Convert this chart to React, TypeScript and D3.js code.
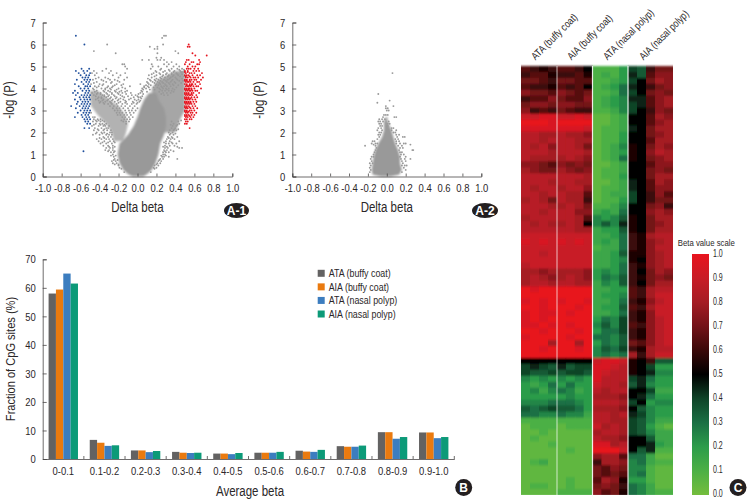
import React, { useEffect, useRef } from "react";
import * as d3 from "d3";

const FONT = "'Liberation Sans', sans-serif";
const INK = "#2b2728";
const GRAY = "#999999";
const SHADE_RIGHT = "#a6a6a6";
const SHADE_LEFT = "#b2b2b2";

// panel A: filled part of each cloud, [-log P, left edge, right edge]
const cloudCoreA1: number[][] = [[0, -0.05, 0.06], [0.1, -0.1, 0.1], [0.3, -0.15, 0.15], [0.6, -0.19, 0.19], [1, -0.21, 0.22], [1.5, -0.19, 0.24], [1.9, -0.1, 0.28], [2.3, -0.04, 0.3], [2.7, 0, 0.3], [3.1, 0.03, 0.28], [3.5, 0.07, 0.22], [3.8, 0.12, 0.2]];
const cloudRightA1: number[][] = [[2, 0.25, 0.4], [2.6, 0.25, 0.45], [3, 0.2, 0.5], [3.5, 0.15, 0.5], [4, 0.15, 0.5], [4.4, 0.22, 0.5], [4.8, 0.4, 0.5]];
const cloudLeftA1: number[][] = [[1.6, -0.25, -0.15], [2, -0.27, -0.12], [2.4, -0.33, -0.1], [2.8, -0.42, -0.13], [3.2, -0.49, -0.2], [3.6, -0.5, -0.33], [3.9, -0.5, -0.42]];
const cloudCoreA2: number[][] = [[0, -0.06, 0.04], [0.08, -0.15, 0.13], [0.3, -0.16, 0.16], [0.6, -0.15, 0.14], [0.9, -0.14, 0.14], [1.2, -0.12, 0.12], [1.5, -0.09, 0.09], [1.8, -0.05, 0.07], [2.1, -0.03, 0.05], [2.5, -0.03, 0.01], [2.7, -0.01, 0.005]];

// panel A: scattered points as rows, [-log P, [delta beta...]]
const grayRowsA1: [number, number[]][] = [
  [6.4, [0.28, 0.3]], [6.3, [0.26]], [6.0, [-0.32, 0.27]], [5.9, [0.13, 0.21]], [5.8, [0.18, 0.21]], [5.7, [-0.46, 0.4]], [5.6, [-0.23, 0.21, 0.43]],
  [5.4, [0.2, 0.25]], [5.3, [0.05, 0.12, 0.21, 0.24, 0.28]], [5.2, [0.31, 0.36]], [5.1, [-0.16, -0.14, 0.15, 0.28, 0.33, 0.41]],
  [5.0, [-0.13, 0.16, 0.22, 0.31, 0.38, 0.44]], [4.9, [-0.33, -0.11, 0.14, 0.25, 0.36, 0.42, 0.47]], [4.8, [-0.46, -0.37, -0.28, 0.19, 0.29, 0.34, 0.39, 0.45]],
  [4.7, [-0.48, -0.43, -0.3, -0.22, -0.13, 0.17, 0.23, 0.31, 0.36, 0.41]], [4.6, [-0.45, -0.26, -0.18, 0.12, 0.2, 0.27, 0.33, 0.38, 0.43]],
  [4.5, [-0.41, -0.34, -0.2, -0.11, 0.15, 0.24, 0.29, 0.35, 0.4]], [4.4, [-0.47, -0.38, -0.29, -0.24, -0.14, 0.13, 0.18, 0.22, 0.28, 0.32, 0.37, 0.42]],
  [4.3, [-0.43, -0.33, -0.27, -0.19, 0.1, 0.16, 0.21, 0.26, 0.31, 0.35, 0.39]], [4.2, [-0.49, -0.4, -0.36, -0.22, -0.15, 0.03, 0.12, 0.2, 0.24, 0.29, 0.34, 0.37]],
  [4.1, [-0.45, -0.41, -0.31, -0.26, -0.08, 0.07, 0.11, 0.25, 0.28, 0.31, 0.35]], [4.0, [-0.47, -0.38, -0.34, -0.29, -0.2, -0.13, 0.05, 0.09, 0.23, 0.27, 0.3, 0.33, 0.37]],
  [3.9, [-0.43, -0.36, -0.31, -0.24, -0.17, -0.11, 0.04, 0.26, 0.29, 0.33, 0.36]], [3.8, [-0.48, -0.42, -0.39, -0.33, -0.27, -0.21, -0.16, -0.07, 0.03, 0.27, 0.31, 0.35]],
  [3.7, [-0.46, -0.37, -0.35, -0.3, -0.25, -0.18, -0.06, -0.02, 0.28, 0.32]], [3.6, [-0.41, -0.38, -0.33, -0.28, -0.22, -0.14, -0.04, 0.01, 0.03]],
  [3.5, [-0.44, -0.36, -0.31, -0.26, -0.2, -0.15, -0.09, -0.03, 0.01]], [3.4, [-0.39, -0.34, -0.29, -0.24, -0.18, -0.12, -0.05, 0.02]],
  [3.3, [-0.35, -0.31, -0.27, -0.22, -0.16, -0.11, -0.06, -0.01]], [3.2, [-0.29, -0.25, -0.21, -0.17, -0.13, -0.08, -0.03]],
  [3.1, [-0.26, -0.22, -0.19, -0.15, -0.1, -0.05, 0.0]], [3.0, [-0.24, -0.21, -0.18, -0.13, -0.09, -0.06, -0.02]], [2.9, [-0.49, -0.22, -0.19, -0.16, -0.12, -0.08, -0.04]],
  [2.8, [-0.21, -0.18, -0.14, -0.11, -0.07]], [2.7, [-0.47, -0.45, -0.16, -0.13, -0.09, -0.05]], [2.6, [-0.46, -0.42, -0.39, -0.14, -0.11, -0.08]],
  [2.5, [-0.47, -0.43, -0.39, -0.35, -0.15, -0.12, -0.09, 0.36, 0.43]], [2.4, [-0.44, -0.4, -0.37, -0.33, -0.12, 0.38, 0.44]], [2.3, [-0.48, -0.41, -0.36, -0.34, -0.3, 0.37, 0.41]],
  [2.2, [-0.45, -0.38, -0.33, -0.31, 0.36, 0.4]], [2.1, [-0.46, -0.41, -0.36, -0.32, -0.28, 0.34, 0.38, 0.41]], [2.0, [-0.43, -0.38, -0.35, -0.29, -0.27, 0.33, 0.37]],
  [1.9, [-0.47, -0.4, -0.33, -0.3, -0.27, 0.34, 0.38]], [1.8, [-0.36, -0.31, -0.28, 0.32, 0.36, 0.42]], [1.7, [-0.43, -0.38, -0.33, -0.3, -0.26, 0.31, 0.35, 0.39]],
  [1.6, [-0.41, -0.35, -0.29, -0.25, 0.3, 0.34, 0.44]], [1.5, [-0.39, -0.33, -0.27, 0.3, 0.33, 0.37, 0.41]], [1.4, [-0.36, -0.31, -0.26, 0.29, 0.34, 0.39]],
  [1.3, [-0.33, -0.29, -0.26, 0.29, 0.32, 0.44, 0.47]], [1.2, [-0.34, -0.3, -0.26, 0.28, 0.31, 0.35]], [1.1, [-0.28, -0.25, 0.27, 0.3, 0.33]], [1.0, [-0.26, 0.27, 0.29]],
  [0.9, [-0.25, 0.26, 0.28, 0.33]], [0.8, [-0.24, 0.24, 0.27, 0.42]], [0.7, [-0.27, -0.23, 0.22, 0.25]], [0.6, [-0.26, -0.22, 0.21, 0.24]], [0.5, [-0.2, 0.18, 0.22]], [0.4, [-0.19, 0.17, 0.2]],
  // second pass over the same cloud, between the rows above
  [4.85, [0.24, 0.33, 0.44, 0.49]], [4.75, [0.2, 0.27, 0.38, 0.46, 0.48]], [4.65, [0.15, 0.24, 0.3, 0.36, 0.42, 0.47]], [4.55, [0.18, 0.26, 0.32, 0.37, 0.45, 0.49]],
  [4.45, [-0.44, -0.31, 0.11, 0.2, 0.25, 0.34, 0.41, 0.47]], [4.35, [-0.36, -0.21, 0.14, 0.19, 0.24, 0.3, 0.36, 0.44, 0.48]], [4.25, [-0.46, -0.28, 0.11, 0.18, 0.23, 0.27, 0.33, 0.4, 0.46]],
  [4.15, [-0.37, -0.24, -0.17, 0.09, 0.14, 0.19, 0.22, 0.3, 0.38, 0.43]], [4.05, [-0.43, -0.32, -0.27, -0.16, 0.07, 0.12, 0.17, 0.21, 0.26, 0.41]], [3.95, [-0.46, -0.34, -0.28, -0.22, 0.06, 0.13, 0.18, 0.24, 0.31, 0.39]],
  [3.85, [-0.45, -0.35, -0.29, -0.23, -0.19, -0.13, 0.05, 0.1, 0.23, 0.38]], [3.75, [-0.43, -0.39, -0.32, -0.27, -0.2, -0.12, 0.01, 0.06, 0.25]], [3.65, [-0.44, -0.35, -0.31, -0.24, -0.16, -0.1, 0.0, 0.05]],
  [3.55, [-0.42, -0.38, -0.29, -0.23, -0.18, -0.07, 0.04]], [3.45, [-0.41, -0.37, -0.32, -0.27, -0.21, -0.13, -0.01, 0.03]], [3.35, [-0.4, -0.36, -0.28, -0.2, -0.13, -0.04, 0.0]],
  [2.55, [-0.44, -0.41, -0.37, -0.17, 0.46]], [2.35, [-0.46, -0.39, -0.35, 0.42, 0.35]], [2.15, [-0.42, -0.35, 0.39, 0.43]], [1.95, [-0.44, -0.37, -0.32, 0.35, 0.4]], [1.75, [-0.4, -0.35, 0.33, 0.37]],
  [1.55, [-0.37, -0.31, -0.24, 0.28, 0.36]], [1.35, [-0.3, -0.24, 0.27, 0.31, 0.42]], [1.15, [-0.31, -0.24, 0.29, 0.38]], [0.95, [-0.28, -0.23, 0.25, 0.3]], [0.75, [-0.25, -0.21, 0.23]], [0.55, [-0.24, -0.2, 0.2]], [0.35, [-0.17, 0.18]], [0.2, [-0.14, 0.14]],
];
const blueRowsA1: [number, number[]][] = [
  [6.4, [-0.65]], [6.0, [-0.56]], [4.9, [-0.59, -0.51]], [4.8, [-0.65, -0.57, -0.53]], [4.7, [-0.62, -0.56, -0.5]], [4.6, [-0.6, -0.54, -0.51]], [4.5, [-0.58, -0.55, -0.52]],
  [4.4, [-0.64, -0.56, -0.53, -0.5]], [4.3, [-0.59, -0.54, -0.51]], [4.2, [-0.66, -0.57, -0.52]], [4.1, [-0.62, -0.55, -0.53, -0.5]], [4.0, [-0.6, -0.56, -0.52]],
  [3.9, [-0.66, -0.58, -0.54, -0.51]], [3.8, [-0.68, -0.63, -0.55, -0.52]], [3.7, [-0.65, -0.59, -0.56, -0.53, -0.5]], [3.6, [-0.61, -0.57, -0.54, -0.51]],
  [3.5, [-0.66, -0.6, -0.56, -0.53, -0.5]], [3.4, [-0.63, -0.58, -0.55, -0.52]], [3.3, [-0.64, -0.59, -0.56, -0.53, -0.5]], [3.2, [-0.7, -0.61, -0.57, -0.54, -0.51]],
  [3.1, [-0.65, -0.58, -0.55, -0.52]], [3.0, [-0.6, -0.56, -0.53, -0.5]], [2.9, [-0.63, -0.57, -0.54, -0.51]], [2.8, [-0.59, -0.55, -0.52]], [2.7, [-0.66, -0.58, -0.54, -0.51]],
  [2.6, [-0.56, -0.53, -0.5]], [2.5, [-0.55, -0.52]], [2.4, [-0.53, -0.5]], [2.2, [-0.56, -0.51]], [1.15, [-0.57]],
];
const redRowsA1: [number, number[]][] = [
  [6.0, [0.54]], [5.9, [0.53, 0.55]], [5.6, [0.58]], [5.5, [0.73, 0.61]], [5.3, [0.52, 0.54, 0.65]], [5.2, [0.51, 0.57, 0.59, 0.66]], [5.1, [0.5, 0.55, 0.63, 0.65]],
  [5.0, [0.53, 0.58, 0.61]], [4.9, [0.52, 0.54, 0.56, 0.6, 0.64]], [4.8, [0.5, 0.53, 0.59, 0.62, 0.65]], [4.7, [0.51, 0.55, 0.57, 0.6, 0.68]], [4.6, [0.5, 0.52, 0.54, 0.58, 0.63, 0.66]],
  [4.5, [0.51, 0.53, 0.56, 0.59, 0.61, 0.64, 0.69]], [4.4, [0.5, 0.52, 0.55, 0.57, 0.6, 0.62, 0.67]], [4.3, [0.51, 0.53, 0.54, 0.56, 0.59, 0.63, 0.65]],
  [4.2, [0.5, 0.52, 0.55, 0.57, 0.58, 0.61, 0.66]], [4.1, [0.51, 0.53, 0.54, 0.56, 0.59, 0.62, 0.64]], [4.0, [0.5, 0.52, 0.54, 0.55, 0.57, 0.6, 0.67]],
  [3.9, [0.51, 0.53, 0.55, 0.56, 0.58, 0.61, 0.63]], [3.8, [0.5, 0.52, 0.54, 0.57, 0.59, 0.65]], [3.7, [0.51, 0.53, 0.55, 0.56, 0.58, 0.62]],
  [3.6, [0.5, 0.52, 0.54, 0.57, 0.6, 0.63]], [3.5, [0.51, 0.53, 0.55, 0.58, 0.61]], [3.4, [0.5, 0.52, 0.54, 0.56, 0.59, 0.62]], [3.3, [0.51, 0.53, 0.55, 0.57, 0.6]],
  [3.2, [0.5, 0.52, 0.54, 0.58, 0.61]], [3.1, [0.51, 0.53, 0.56, 0.59, 0.63]], [3.0, [0.5, 0.52, 0.55, 0.57, 0.6]], [2.9, [0.51, 0.53, 0.56, 0.58, 0.62]],
  [2.8, [0.5, 0.52, 0.54, 0.57, 0.6]], [2.7, [0.51, 0.53, 0.56, 0.59]], [2.6, [0.5, 0.52, 0.55, 0.57]], [2.5, [0.51, 0.53]], [2.4, [0.5, 0.52]], [2.2, [0.55]],
  // second pass, dense left edge of the red group
  [4.75, [0.5, 0.53]], [4.55, [0.51, 0.55]], [4.35, [0.5, 0.52, 0.55]], [4.15, [0.52, 0.55, 0.57]], [3.95, [0.5, 0.52, 0.54, 0.57]], [3.75, [0.5, 0.52, 0.54, 0.57]],
  [3.55, [0.5, 0.52, 0.54, 0.56]], [3.35, [0.5, 0.52, 0.54, 0.56]], [3.15, [0.5, 0.52, 0.55]], [2.95, [0.5, 0.52, 0.54]], [2.75, [0.5, 0.52, 0.55]],
];
const grayRowsA2: [number, number[]][] = [
  [4.7, [0.06]], [3.75, [-0.09]], [3.45, [0.03]], [3.35, [-0.1]], [3.2, [0.07, -0.01]], [3.1, [-0.01, 0.01]], [3.0, [0.0, 0.02]], [2.8, [-0.03, -0.01, 0.01]], [2.7, [-0.04, 0.08, 0.1]],
  [2.6, [-0.08, -0.05, -0.02]], [2.5, [-0.09, -0.07, 0.02, -0.04]], [2.4, [-0.08, -0.06, 0.01, 0.03]], [2.3, [-0.07, -0.05, 0.01]], [2.2, [-0.09, -0.06, 0.07, 0.05]],
  [2.1, [-0.1, -0.05, 0.05, 0.1]], [2.0, [-0.08, -0.06, 0.07, 0.09]], [1.9, [-0.09, -0.07, 0.1, 0.13]], [1.8, [-0.08, 0.11, 0.17, 0.19]], [1.7, [-0.1, 0.09, 0.12]],
  [1.6, [-0.15, -0.13, 0.1, 0.13]], [1.5, [-0.16, -0.12, -0.1, 0.1, 0.14, 0.18, 0.2]], [1.45, [-0.14, 0.25]], [1.4, [-0.23, -0.12, 0.12, 0.16]], [1.3, [-0.11, 0.14, 0.17]], [1.2, [-0.12, 0.13, 0.27, 0.28]],
  [1.1, [-0.13, 0.14, 0.16]], [1.0, [-0.14, 0.15, 0.18]], [0.9, [-0.16, -0.14, 0.14, 0.2]], [0.8, [-0.17, 0.15, 0.19, 0.25]], [0.7, [-0.16, 0.16, 0.2]], [0.6, [-0.18, -0.15, 0.17]],
  [0.5, [-0.17, 0.16, 0.19, 0.21]], [0.4, [-0.18, 0.18]], [0.3, [-0.17, 0.2]], [0.2, [-0.18, 0.16]],
];

// panel B
const betaBins = ["0-0.1", "0.1-0.2", "0.2-0.3", "0.3-0.4", "0.4-0.5", "0.5-0.6", "0.6-0.7", "0.7-0.8", "0.8-0.9", "0.9-1.0"];
const seriesNames = ["ATA (buffy coat)", "AIA (buffy coat)", "ATA (nasal polyp)", "AIA (nasal polyp)"];
const seriesColors = ["#636262", "#ea7a0f", "#3c7dbf", "#0c9a78"];
const ataBuffy = [58, 6.7, 3, 2.5, 1.9, 2.2, 2.9, 4.5, 9.4, 9.3];
const aiaBuffy = [59.4, 5.7, 3, 2.2, 1.9, 2.2, 2.6, 4.3, 9.4, 9.3];
const ataNasal = [65, 4.6, 2.4, 2.1, 1.7, 2.2, 2.5, 4.3, 7.1, 7.3];
const aiaNasal = [61.5, 4.8, 2.8, 2.2, 2.1, 2.5, 3.2, 4.7, 7.7, 7.7];
const fractionSeries = [ataBuffy, aiaBuffy, ataNasal, aiaNasal];

// panel C: one string per row, one letter per sub-column, a = 0.00 ... u = 1.00 in 0.05 steps
const heatRows = [
  "nmlm nnmk ccce ihmoo", "mnnl mmnl cdce jhnpp", "oonm oonn ccde ikoqp", "nmml nmnk cdeg jkmop", "poon pono ccdg ikopo", "mnnp onnp cdef jjnpq",
  "oppo ppoo cdef ijnpq", "pmnm onmm ccdf ikmpo", "sstt ssts bbcd kknqp", "uuut uuuu bbcd kknpq", "tttt ttts bccd jkoqq", "rrqq rqqp bcce kkopq",
  "rrqr rrqq bcce kknqq", "rqrp rrqo bcdf lkoqp", "rrrq rrrq bcde lkprq", "rqqq qrqp bcdg lkopq", "ppon popo bbcd kknpp", "qpoo qpop bccd kkopo",
  "rrrr rrrq bcce kkoqq", "rrrq rrqq bbcd jknqp", "rqrr qrrp bccd jknpp", "rrqr rqqn bcdd ikmpn", "qrqo rqqm bcce ikmoo", "rrrq qrqo ccdf kkopm",
  "rrqr rrpp dedg kkpqp", "qrrr rrqn fefh lkoqq", "rqrq qrqk fhfj lkopq", "rrrr rrqq deeh lkoqq", "ssss ssss ddeg mlqrr", "tsts tsts dedg mlpqr",
  "ssss ssss cddg mlprr", "ssrs ssss ddeh llpqr", "ssss ssss ddef lkpqr", "rsss ssss ddeg mlpqr", "qqpq qqqp efeg mkoqp", "qrqp qrqp egfh mlopo",
  "qrrq rrqq dfeh mkoqq", "utuu uuuu ddee nmqrr", "uuuu uuuu deef nmqss", "tutu tuut ddeg mlprs", "uutu uutu deeh nmqss", "tutt utuu ddeg mlpss",
  "tutu uuuu egfi mlprs", "ttut utuu fhfi nmprs", "uutu uutu eggi mlprs", "tuuu utuu ggfh mlprs", "uuuq uuqu egfh onprs", "uutu uutu fhgi mlqrr",
  "uuuu uuuu fgfg qmqss", "kkkk kkkk stts lkmhh", "ijih jhii ttsr lkiee", "ihhi hiih tsrr lkjff", "fefe fefe trrr ijgee", "edeg egee srrq hjfee",
  "efdf gfde rqrr kkidd", "eeee efee qqqp kjgee", "fffg ggfe rrrq ikeff", "hghi hhge qqqp khfee", "ggff gffd rrqr jifee", "cccc cccc rrqq ihfdd",
  "bccc bccc sqrq ihecb", "bbcb bbbb qrrq ihfdd", "bcbb bbbb rqqp kkhdd", "bbbc bbbb ttqr kkjed", "bbbb bcbb uuus khjcc", "bbbb bbbb pqqn ggdbb",
  "bcdb bbbb mqqp fgdcc", "bbbb bbbb onpo ffcbb", "bbbb bbbb onon fgcbb", "bbbb bcbb nqpl eecbb", "bccb bcbb opom gfdbb", "bbbb cccc pnol gfdcc",
];
const groupNames = seriesNames;
const rowIds = heatRows.map((_, i) => i);

// panel C colour ramp
const scaleStops = [0, 0.1, 0.2, 0.3, 0.4, 0.5, 0.6, 0.7, 0.8, 0.9, 1];
const scaleColors = ["#74bd3c", "#4cb045", "#2c9c4a", "#1a7044", "#0f4428", "#000000", "#3a0808", "#731218", "#a51c24", "#c81c26", "#e8141e"];
const scaleLabels = ["1.0", "0.9", "0.8", "0.7", "0.6", "0.5", "0.4", "0.3", "0.2", "0.1", "0.0"];

function volcano(
  root: d3.Selection<SVGGElement, unknown, null, undefined>,
  left: number,
  right: number,
  clouds: { data: number[][]; color: string }[],
  rows: { data: [number, number[]][]; color: string }[]
) {
  const x = d3.scaleLinear().domain([-1, 1]).range([left, right]);
  const y = d3.scaleLinear().domain([0, 7]).range([176.5, 22.5]);

  const area = d3
    .area<number[]>()
    .y((d) => y(d[0]))
    .x0((d) => x(d[1]))
    .x1((d) => x(d[2]));
  clouds.forEach((c) => root.append("path").attr("d", area(c.data)).attr("fill", c.color).attr("filter", "url(#cloudEdge)"));

  rows.forEach((r) => {
    const pts = r.data.flatMap(([p, xs]) => xs.map((dx) => [dx, p]));
    root
      .append("g")
      .selectAll("circle")
      .data(pts)
      .enter()
      .append("circle")
      .attr("cx", (d) => x(d[0]))
      .attr("cy", (d) => y(d[1]))
      .attr("r", 0.95)
      .attr("fill", r.color);
  });

  // hyphen, not d3's minus sign, as in the original labels
  const fmt = d3.format(".1f");
  const ax = root
    .append("g")
    .attr("transform", "translate(0,176.5)")
    .call(
      d3
        .axisBottom(x)
        .tickValues(d3.range(-1, 1.01, 0.2))
        .tickFormat((d) => fmt(d as number).replace("\u2212", "-"))
        .tickSize(-3)
        .tickPadding(7)
    );
  const ay = root
    .append("g")
    .attr("transform", `translate(${left},0)`)
    .call(d3.axisLeft(y).ticks(7).tickSize(-4).tickPadding(7));
  styleAxis(ax);
  styleAxis(ay);

  const mid = (left + right) / 2;
  root.append("text").attr("x", mid).attr("y", 212).attr("text-anchor", "middle").attr("font-size", 14).text("Delta beta");
  root
    .append("text")
    .attr("transform", `translate(${left - 28.5},100) rotate(-90)`)
    .attr("text-anchor", "middle")
    .attr("font-size", 14)
    .text("-log (P)");
}

function styleAxis(g: d3.Selection<SVGGElement, unknown, null, undefined>) {
  g.attr("font-family", FONT).attr("font-size", 11.5);
  g.selectAll(".domain").attr("stroke", "#4a4748").attr("stroke-width", 0.8);
  g.selectAll("line").attr("stroke", "#4a4748").attr("stroke-width", 0.8);
  g.selectAll("text").attr("fill", INK);
}

function badge(root: d3.Selection<SVGGElement, unknown, null, undefined>, cx: number, cy: number, rx: number, ry: number, label: string) {
  root.append("ellipse").attr("cx", cx).attr("cy", cy).attr("rx", rx).attr("ry", ry).attr("fill", "#231f20");
  root
    .append("text")
    .attr("class", "badge")
    .attr("x", cx)
    .attr("y", cy + 4.3)
    .attr("text-anchor", "middle")
    .attr("fill", "#fff")
    .attr("font-weight", "bold")
    .attr("font-size", 12)
    .text(label);
}

export default function App() {
  const ref = useRef<SVGSVGElement>(null);

  useEffect(() => {
    const svg = d3.select(ref.current);
    svg.selectAll("*").remove();
    const defs = svg.append("defs");
    defs.append("filter").attr("id", "cloudEdge").append("feGaussianBlur").attr("stdDeviation", 1);
    const root = svg.append("g").attr("font-family", FONT).attr("fill", INK) as any;

    // A-1, A-2
    volcano(
      root,
      42.7,
      232.3,
      [
        { data: cloudRightA1, color: SHADE_RIGHT },
        { data: cloudLeftA1, color: SHADE_LEFT },
        { data: cloudCoreA1, color: GRAY },
      ],
      [
        { data: grayRowsA1, color: GRAY },
        { data: blueRowsA1, color: "#1f4f9c" },
        { data: redRowsA1, color: "#e5141f" },
      ]
    );
    volcano(root, 292.3, 481.3, [{ data: cloudCoreA2, color: GRAY }], [{ data: grayRowsA2, color: GRAY }]);
    badge(root, 236.5, 210.5, 12.5, 7.5, "A-1");
    badge(root, 485, 210.5, 13, 7.5, "A-2");

    // B
    const bx = d3.scaleBand().domain(betaBins).range([42.7, 454.3]).paddingInner(0.286).paddingOuter(0.143);
    const bSeries = d3.scaleBand().domain(seriesNames).range([0, bx.bandwidth()]);
    const by = d3.scaleLinear().domain([0, 70]).range([459, 259.3]);
    fractionSeries.forEach((vals, s) => {
      root
        .append("g")
        .selectAll("rect")
        .data(vals)
        .enter()
        .append("rect")
        .attr("x", (_: number, i: number) => bx(betaBins[i])! + bSeries(seriesNames[s])!)
        .attr("y", (d: number) => by(d))
        .attr("width", bSeries.bandwidth())
        .attr("height", (d: number) => by(0) - by(d))
        .attr("fill", seriesColors[s]);
    });
    const bAxisX = root
      .append("g")
      .attr("transform", "translate(0,459)")
      .call(d3.axisBottom(bx).tickSize(0).tickPadding(8));
    styleAxis(bAxisX);
    root
      .append("g")
      .selectAll("line")
      .data(betaBins)
      .enter()
      .append("line")
      .attr("x1", (d: string) => bx(d)! + bx.step() - (bx.step() - bx.bandwidth()) / 2)
      .attr("x2", (d: string) => bx(d)! + bx.step() - (bx.step() - bx.bandwidth()) / 2)
      .attr("y1", 459)
      .attr("y2", 456)
      .attr("stroke", "#4a4748")
      .attr("stroke-width", 0.8);
    const bAxisY = root
      .append("g")
      .attr("transform", "translate(42.7,0)")
      .call(d3.axisLeft(by).ticks(7).tickSize(-4).tickPadding(7));
    styleAxis(bAxisY);
    root.append("text").attr("x", 250).attr("y", 496).attr("text-anchor", "middle").attr("font-size", 14).text("Average beta");
    root
      .append("text")
      .attr("transform", "translate(14.5,359) rotate(-90)")
      .attr("text-anchor", "middle")
      .attr("font-size", 13.5)
      .text("Fraction of CpG sites (%)");

    // B legend
    const ly = d3.scalePoint().domain(seriesNames).range([273.3, 314]);
    seriesNames.forEach((name, i) => {
      root.append("rect").attr("x", 317.7).attr("y", ly(name)! - 3.5).attr("width", 7).attr("height", 7).attr("fill", seriesColors[i]);
      root.append("text").attr("x", 328.7).attr("y", ly(name)! + 3.8).attr("font-size", 10.8).text(name);
    });
    badge(root, 463.7, 487.5, 8.5, 8.5, "B");

    // C heatmap
    const color = d3.scaleLinear<string>().domain(scaleStops).range(scaleColors);
    const groupEdges = [521, 557, 592.5, 628, 673];
    const rowScale = d3.scaleBand<number>().domain(rowIds).range([66, 495]);
    defs.append("filter").attr("id", "soft").append("feGaussianBlur").attr("stdDeviation", "0.5 0.8");
    const heat = root.append("g").attr("filter", "url(#soft)");
    heatRows.forEach((row, r) => {
      row.split(" ").forEach((cells, g) => {
        const letters = cells.split("");
        const sub = d3.scaleBand<number>().domain(d3.range(letters.length)).range([groupEdges[g], groupEdges[g + 1]]);
        letters.forEach((c, s) => {
          heat
            .append("rect")
            .attr("x", sub(s)!)
            .attr("y", rowScale(r)!)
            .attr("width", sub.bandwidth() + 1)
            .attr("height", rowScale.bandwidth() + 1)
            .attr("fill", color((c.charCodeAt(0) - 97) * 0.05));
        });
      });
    });
    // cover the overdraw of the last row and column
    root.append("rect").attr("x", 673).attr("y", 60).attr("width", 5).attr("height", 440).attr("fill", "#fff");
    root.append("rect").attr("x", 516).attr("y", 495).attr("width", 162).attr("height", 5).attr("fill", "#fff");
    groupEdges.slice(1, 4).forEach((gx, i) => {
      root
        .append("line")
        .attr("x1", gx)
        .attr("x2", gx)
        .attr("y1", 66)
        .attr("y2", 495)
        .attr("stroke", "#fff")
        .attr("stroke-opacity", i === 0 ? 0.6 : 0.9)
        .attr("stroke-width", 1.2);
    });
    groupNames.forEach((name, i) => {
      root
        .append("text")
        .attr("transform", `translate(${535.5 + i * 36},60.5) rotate(-45)`)
        .attr("font-size", 10.5)
        .text(name);
    });

    // C scale
    const gradient = defs
      .append("linearGradient")
      .attr("id", "betaScale")
      .attr("x1", 0)
      .attr("x2", 0)
      .attr("y1", 1)
      .attr("y2", 0);
    scaleStops.forEach((v, i) => {
      gradient.append("stop").attr("offset", v).attr("stop-color", scaleColors[i]);
    });
    root.append("rect").attr("x", 692).attr("y", 254).attr("width", 17).attr("height", 241).attr("fill", "url(#betaScale)");
    const sy = d3.scalePoint().domain(scaleLabels).range([253, 493]);
    scaleLabels.forEach((l) => {
      root.append("text").attr("class", "scale").attr("x", 713).attr("y", sy(l)! + 3.6).attr("font-size", 10).text(l);
    });
    root.append("text").attr("x", 677.7).attr("y", 246).attr("font-size", 9.5).text("Beta value scale");
    badge(root, 738, 487.5, 8.5, 8.5, "C");

    // the original face is condensed and no narrow face is installed
    root.selectAll("text").each(function (this: SVGTextElement) {
      const cls = this.getAttribute("class");
      if (cls === "badge") return;
      const factor = cls === "scale" ? 0.7 : 0.82;
      this.setAttribute("textLength", String(this.getComputedTextLength() * factor));
      this.setAttribute("lengthAdjust", "spacingAndGlyphs");
    });
  }, []);

  return (
    <svg
      ref={ref}
      width={747}
      height={501}
      style={{ position: "absolute", left: 0, top: 0, display: "block", background: "#fff" }}
    />
  );
}
